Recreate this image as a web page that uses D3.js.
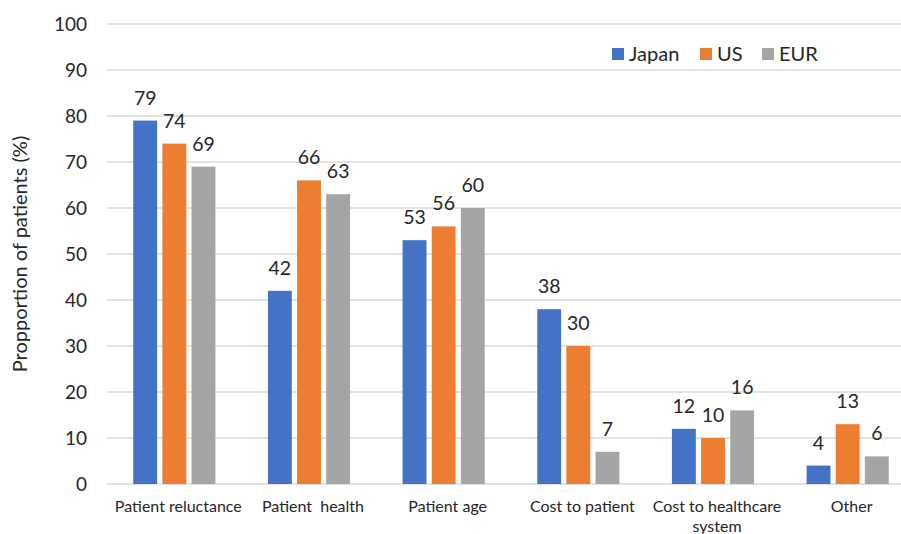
<!DOCTYPE html>
<html>
<head>
<meta charset="utf-8">
<script src="https://cdn.jsdelivr.net/npm/d3@7"></script>
<style>
  body { margin: 0; background: #fff; }
  svg { font-family: Lato, "Open Sans", sans-serif; }
</style>
</head>
<body>
<svg id="chart" width="901" height="534"></svg>
<script>
const categories = ["Patient reluctance", "Patient  health", "Patient age", "Cost to patient", "Cost to healthcare\nsystem", "Other"]
const seriesNames = ["Japan", "US", "EUR"]
const japan = [79, 42, 53, 38, 12, 4]
const us = [74, 66, 56, 30, 10, 13]
const eur = [69, 63, 60, 7, 16, 6]
const yTicks = [0, 10, 20, 30, 40, 50, 60, 70, 80, 90, 100]
const colors = ["#4472C4", "#ED7D31", "#A5A5A5"]

const width = 901, height = 534
const margin = {top: 24, right: -14, bottom: 50, left: 107}
const svg = d3.select("#chart")
const textColor = "#262626"

const series = [japan, us, eur]
const rows = categories.map((c, i) => ({cat: c, vals: series.map(s => s[i])}))

const x = d3.scaleBand()
  .domain(categories)
  .range([margin.left, width - margin.right])
  .paddingInner(0.39)
  .paddingOuter(0.195)

const xi = d3.scaleBand()
  .domain(seriesNames)
  .range([0, x.bandwidth()])
  .paddingInner(0.18)

const y = d3.scaleLinear()
  .domain([0, 100])
  .range([height - margin.bottom, margin.top])

// gridlines
svg.append("g")
  .selectAll("line")
  .data(yTicks)
  .join("line")
  .attr("x1", margin.left)
  .attr("x2", width)
  .attr("y1", d => y(d))
  .attr("y2", d => y(d))
  .attr("stroke", "#d9d9d9")
  .attr("stroke-width", 1.5)

// y axis labels
const yAxis = g => g
  .attr("transform", `translate(${margin.left - 20},0)`)
  .call(d3.axisLeft(y).tickValues(yTicks).tickSize(0).tickPadding(0))
  .call(g => g.select(".domain").remove())
  .call(g => g.selectAll("text")
    .attr("font-size", 19)
    .attr("font-family", "Lato, sans-serif")
    .attr("fill", textColor))
svg.append("g").call(yAxis)

// bars
const groups = svg.append("g")
  .selectAll("g")
  .data(rows)
  .join("g")
  .attr("transform", d => `translate(${x(d.cat)},0)`)

groups.selectAll("rect")
  .data(d => d.vals.map((v, k) => ({name: seriesNames[k], v: v, k: k})))
  .join("rect")
  .attr("x", d => xi(d.name))
  .attr("width", xi.bandwidth())
  .attr("y", d => y(d.v))
  .attr("height", d => y(0) - y(d.v))
  .attr("fill", d => colors[d.k])

groups.selectAll("text.val")
  .data(d => d.vals.map((v, k) => ({name: seriesNames[k], v: v, k: k})))
  .join("text")
  .attr("class", "val")
  .attr("x", d => xi(d.name) + xi.bandwidth() / 2)
  .attr("y", d => y(d.v) - 16)
  .attr("text-anchor", "middle")
  .attr("font-size", 19.5)
  .attr("fill", textColor)
  .text(d => d.v)

// x category labels
const xLab = svg.append("g")
  .selectAll("text")
  .data(categories)
  .join("text")
  .attr("y", 512)
  .attr("text-anchor", "middle")
  .attr("font-size", 16)
  .attr("fill", textColor)
xLab.each(function(d) {
  const lines = d.split("\n")
  d3.select(this).selectAll("tspan")
    .data(lines)
    .join("tspan")
    .attr("x", x(d) + x.bandwidth() / 2 + 4)
    .attr("dy", (l, i) => i === 0 ? 0 : 20)
    .attr("xml:space", "preserve")
    .text(l => l)
})

// y title
svg.append("text")
  .attr("transform", `translate(27,${(y(0) + y(100)) / 2}) rotate(-90)`)
  .attr("text-anchor", "middle")
  .attr("font-size", 20)
  .attr("fill", textColor)
  .text("Propportion of patients (%)")

// legend
const legendX = [612, 700, 762]
const legend = svg.append("g")
  .selectAll("g")
  .data(seriesNames)
  .join("g")
  .attr("transform", (d, i) => `translate(${legendX[i]},54)`)
legend.append("rect")
  .attr("x", 0).attr("y", -6)
  .attr("width", 12).attr("height", 12)
  .attr("fill", (d, i) => colors[i])
legend.append("text")
  .attr("x", 17).attr("y", 7)
  .attr("font-size", 20)
  .attr("fill", textColor)
  .text(d => d)
</script>
</body>
</html>
